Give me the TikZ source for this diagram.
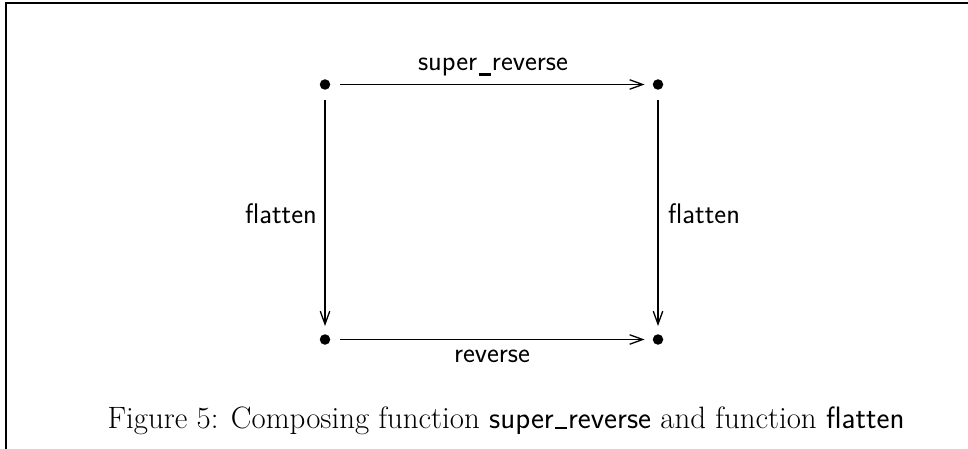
\documentclass[tikz,border=0pt]{standalone}
\usetikzlibrary{arrows.meta}
\newcommand\usbar{\kern0.05em\rule[-0.17em]{0.42em}{0.1em}\kern0.05em}
\newcommand\capbar{\kern0.05em\rule[-0.04em]{0.36em}{0.06em}\kern0.05em}
\begin{document}
\begin{tikzpicture}[x=1pt,y=-1pt,
  dot/.style={circle,fill=black,inner sep=0pt,minimum size=10.5pt},
  arr/.style={line width=1.4pt,-{Straight Barb[length=13pt,width=9.5pt,line width=1.3pt]},shorten <=10pt,shorten >=8pt},
  lab/.style={font=\fontsize{28.3}{34}\sffamily,inner sep=0pt},
  frameline/.style={line width=2pt}]
\useasboundingbox (0,0) rectangle (968,449);
\coordinate (fbl) at (5.8,449);
\coordinate (ftl) at (5.8,3.2);
\coordinate (ftr) at (968,3.2);
\draw[frameline] (fbl) -- (ftl) -- (ftr);
\node[dot] (a) at (325,84.5) {};
\node[dot] (b) at (658,84.5) {};
\node[dot] (c) at (325,339.5) {};
\node[dot] (d) at (658,339.5) {};
\draw[arr] (a) -- (b);
\draw[arr] (c) -- (d);
\draw[arr] (a) -- (c);
\draw[arr] (b) -- (d);
\node[lab,anchor=base] (l1) at (493,71) {super\usbar reverse};
\node[lab,anchor=base] (l2) at (492,362) {reverse};
\node[lab,anchor=base east] (l3) at (317,223) {flatten};
\node[lab,anchor=base west] (l4) at (668,223) {flatten};
\node[font=\fontsize{30.9}{36}\selectfont,inner sep=0pt,anchor=base] (cap) at (506,428)
  {Figure 5: Composing function \textsf{super\capbar reverse} and function \textsf{flatten}};
\end{tikzpicture}
\end{document}
